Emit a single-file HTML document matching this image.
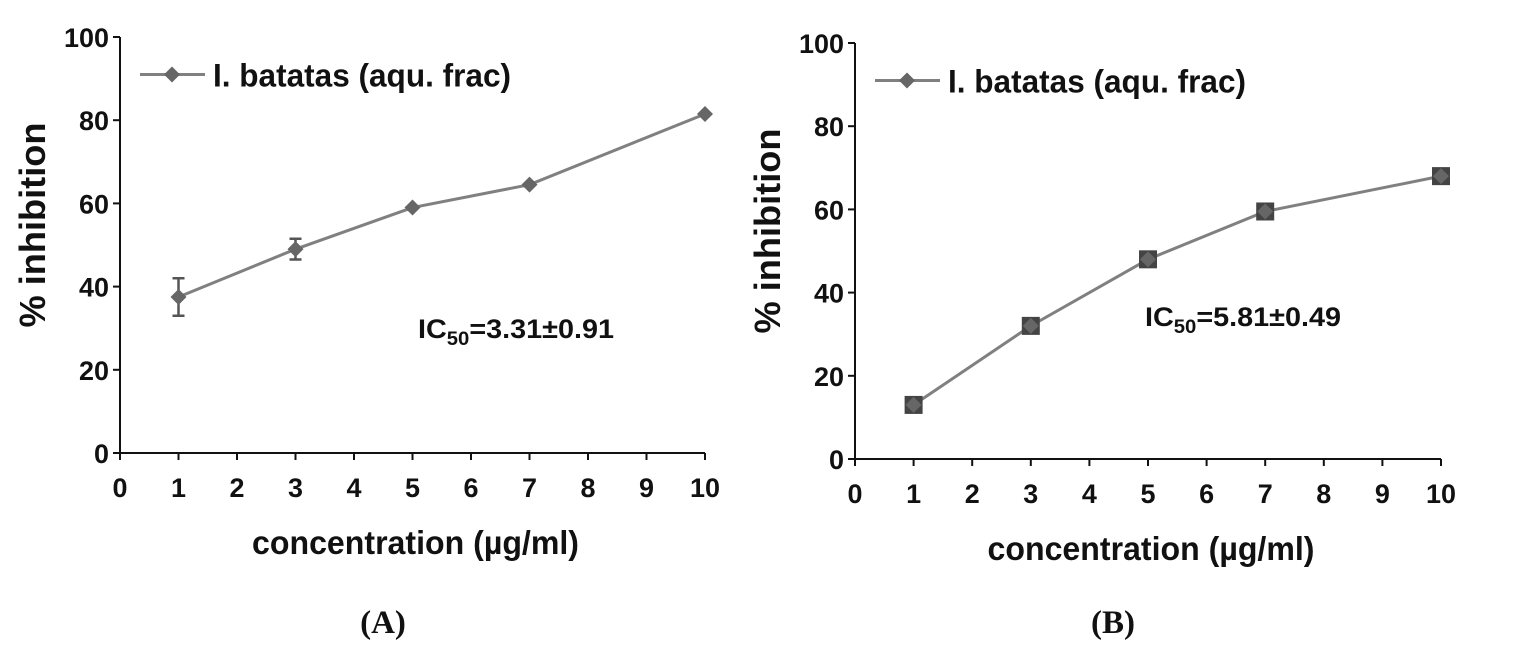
<!DOCTYPE html>
<html><head><meta charset="utf-8"><style>
body{margin:0;background:#fff}
svg{display:block}
text{font-family:"Liberation Sans",Arial,sans-serif;font-weight:bold;fill:#111}
</style></head><body>
<svg id="chart" width="1514" height="647" viewBox="0 0 1514 647"></svg>
<script>
const xTicks=[0,1,2,3,4,5,6,7,8,9,10];
const yTicks=[0,20,40,60,80,100];
const concA=[1,3,5,7,10];
const inhibA=[37.5,49,59,64.5,81.5];
const errA=[4.5,2.5,0,0,0];
const concB=[1,3,5,7,10];
const inhibB=[13,32,48,59.5,68];
const errB=[1,1.5,2,2,1.5];
const NS="http://www.w3.org/2000/svg";
const svg=document.getElementById('chart');
function mk(tag,attrs,parent,txt){const e=document.createElementNS(NS,tag);for(const k in attrs)e.setAttribute(k,attrs[k]);if(txt!==undefined)e.textContent=txt;(parent||svg).appendChild(e);return e;}
function panel(id,x0,x1,y0,y1,cs,xs,es,marker,ic,icx,icy,lab,labx){
  const g=mk('g',{});
  
  
  const X=v=>x0+(x1-x0)*v/10, Y=v=>y0-(y0-y1)*v/100;
  const ax=mk('path',{d:`M${x0},${y1} V${y0} H${x1}`,stroke:'#111','stroke-width':2,fill:'none'},g);
  
  
  yTicks.forEach(t=>{mk('line',{x1:x0-7,x2:x0,y1:Y(t),y2:Y(t),stroke:'#111','stroke-width':2},g);
    const tl=mk('text',{x:x0-11,y:Y(t)+10,'text-anchor':'end','font-size':27,textLength:String(t).length*15,lengthAdjust:'spacingAndGlyphs'},g,t);
    
    });
  xTicks.forEach(t=>{mk('line',{x1:X(t),x2:X(t),y1:y0,y2:y0+7,stroke:'#111','stroke-width':2},g);
    const tl=mk('text',{x:X(t),y:y0+44,'text-anchor':'middle','font-size':27,textLength:String(t).length*15,lengthAdjust:'spacingAndGlyphs'},g,t);
    
    });
  const yt=mk('text',{x:0,y:0,'text-anchor':'middle','font-size':36,textLength:205,lengthAdjust:'spacingAndGlyphs',transform:`translate(${x0-75},${(y0+y1)/2-20}) rotate(-90)`},g,'% inhibition');
  
  
  const xt=mk('text',{x:(x0+x1)/2+3,y:y0+101,'text-anchor':'middle','font-size':33,textLength:327,lengthAdjust:'spacingAndGlyphs'},g,'concentration (\u00b5g/ml)');
  
  
  const ln=mk('polyline',{points:xs.map((v,i)=>X(cs[i])+','+Y(v)).join(' '),stroke:'#808080','stroke-width':3,fill:'none'},g);
  
  
  xs.forEach((v,i)=>{
    const cx=X(cs[i]),cy=Y(v),e=es[i];
    if(e>0 && id==='a'){const eb=mk('path',{d:`M${cx-6},${Y(v+e)}H${cx+6}M${cx},${Y(v+e)}V${Y(v-e)}M${cx-6},${Y(v-e)}H${cx+6}`,stroke:'#555','stroke-width':2.5,fill:'none'},g);
      
      }
    if(marker==='square'){const sq=mk('rect',{x:cx-9,y:cy-9,width:18,height:18,fill:'#444'},g);
      
      }
    const p=mk('path',{d:`M${cx},${cy-8}L${cx+8},${cy}L${cx},${cy+8}L${cx-8},${cy}Z`,fill:'#666'},g);
    
    
  });
  const lg=mk('g',{},g);
  
  
  mk('line',{x1:x0+20,x2:x0+85,y1:Y(91),y2:Y(91),stroke:'#808080','stroke-width':3},lg);
  mk('path',{d:`M${x0+52},${Y(91)-8}l8,8l-8,8l-8,-8Z`,fill:'#666'},lg);
  mk('text',{x:x0+93,y:Y(91)+12,'font-size':32,textLength:298,lengthAdjust:'spacingAndGlyphs'},lg,'I. batatas (aqu. frac)');
  const it=mk('text',{x:icx,y:icy,'font-size':27,textLength:196,lengthAdjust:'spacingAndGlyphs'},g);
  
  
  mk('tspan',{},it,'IC');mk('tspan',{dy:7,'font-size':19},it,'50');mk('tspan',{dy:-7},it,ic);
  const pl=mk('text',{x:labx,y:633,'text-anchor':'middle','font-size':33,style:'font-family:"Liberation Serif",serif'},g,lab);
  
  
}
panel('a',120,705,453,37,concA,inhibA,errA,'diamond','=3.31\u00b10.91',418,338,'(A)',383);
panel('b',855,1441,459,43,concB,inhibB,errB,'square','=5.81\u00b10.49',1145,326,'(B)',1113);
</script>
</body></html>
